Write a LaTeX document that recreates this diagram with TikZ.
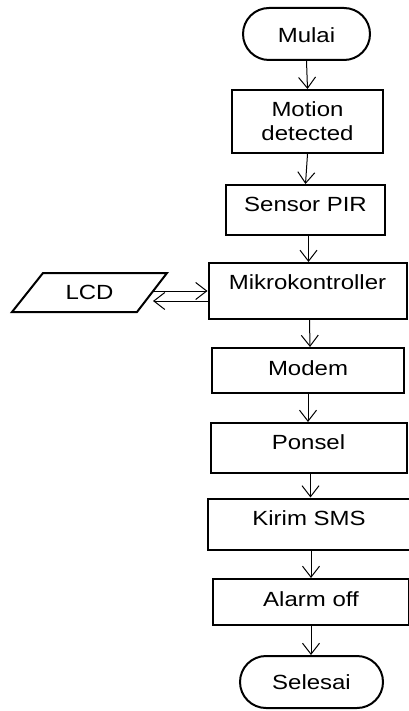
\documentclass[tikz,border=0pt]{standalone}
\usepackage{fontspec}
\setmainfont{Liberation Sans}[FakeStretch=1.17]
\usetikzlibrary{arrows.meta,shapes.misc}
\newcommand{\liftup}[2]{\raisebox{\dimexpr #1pt-7.3pt\relax}[0pt][0pt]{#2}}
\begin{document}
\begin{tikzpicture}[x=1pt,y=-1pt,
  box/.style={draw,line width=2pt,inner sep=0pt,align=center,font=\fontsize{20.5}{24}\selectfont},
  term/.style={box,rounded rectangle},
  arr/.style={line width=1pt,-{Straight Barb[length=11pt,width=17pt,line width=1pt]}}]
\useasboundingbox (0,0) rectangle (408,711);
\node[term,minimum width=127pt,minimum height=52pt] (mulai) at (306.5,34) {\liftup{-1.5}{Mulai}};
\node[box,minimum width=151pt,minimum height=63pt] (motion) at (307.5,121.5) {Motion\\detected};
\node[box,minimum width=159pt,minimum height=50pt] (sensor) at (305.5,210) {\liftup{5.5}{Sensor PIR}};
\node[box,minimum width=198pt,minimum height=56pt] (mikro) at (307.5,291) {\liftup{8.5}{Mikrokontroller}};
\node[box,minimum width=192pt,minimum height=45pt] (modem) at (308,370.5) {\liftup{2}{Modem}};
\node[box,minimum width=196pt,minimum height=50pt] (ponsel) at (308.5,448) {\liftup{5.5}{Ponsel}};
\node[box,minimum width=202pt,minimum height=51pt] (kirim) at (309,524) {\liftup{5.5}{Kirim SMS}};
\node[box,minimum width=196pt,minimum height=46pt] (alarm) at (311,602) {\liftup{3}{Alarm off}};
\node[term,minimum width=143pt,minimum height=52pt] (selesai) at (311.5,682) {\liftup{-0.5}{Selesai}};
% LCD parallelogram
\draw[line width=2pt,line join=miter] (43,273) -- (167,273) -- (137,312) -- (12,312) -- cycle;
\node[font=\fontsize{20.5}{24}\selectfont,inner sep=0pt] (lcd) at (89.5,292.5) {LCD};
\coordinate (lcdA) at (153,291);
\coordinate (lcdB) at (153,301);
% arrows
\draw[arr] (mulai.south) -- (motion.north);
\draw[arr] (motion.south) -- (sensor.north);
\draw[arr] ([xshift=3pt]sensor.south) -- ([xshift=1pt]mikro.north);
\draw[arr] ([xshift=2pt]mikro.south) -- ([xshift=2pt]modem.north);
\draw[arr] (modem.south) -- (modem.south |- ponsel.north);
\draw[arr] ([xshift=2pt]ponsel.south) -- ([xshift=2pt]ponsel.south |- kirim.north);
\draw[arr] ([xshift=2pt]kirim.south) -- ([xshift=2pt]kirim.south |- alarm.north);
\draw[arr] (alarm.south) -- (alarm.south |- selesai.north);
\draw[arr] (lcdA) -- (lcdA -| mikro.west);
\draw[arr] (lcdB -| mikro.west) -- (lcdB);
\end{tikzpicture}
\end{document}
